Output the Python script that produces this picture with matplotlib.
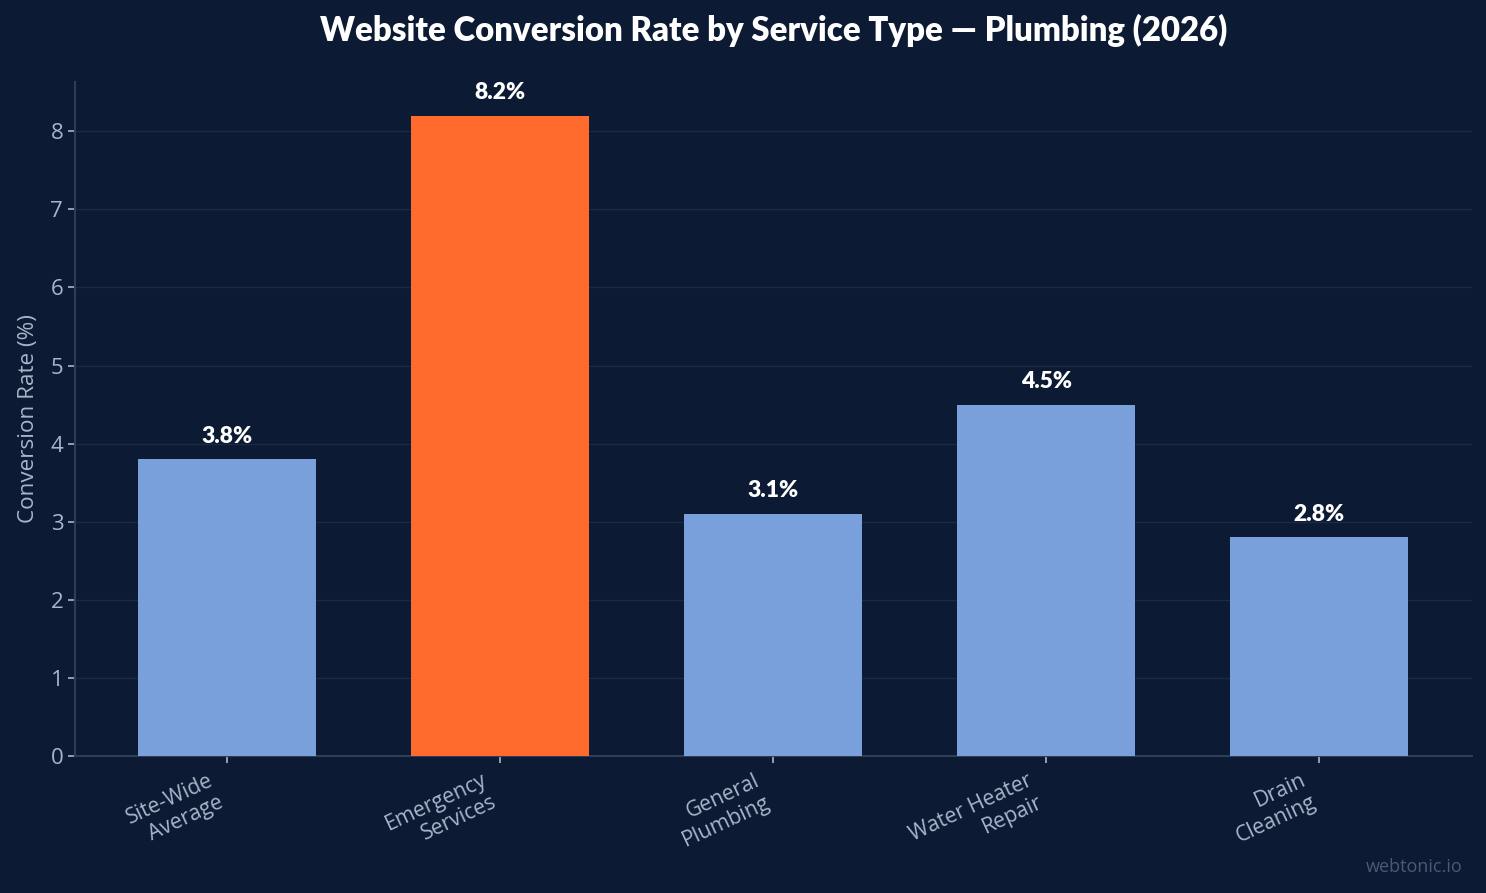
import matplotlib
matplotlib.use("Agg")
import matplotlib.pyplot as plt

categories = ["Site-Wide\nAverage", "Emergency\nServices", "General\nPlumbing", "Water Heater\nRepair", "Drain\nCleaning"]
values = [3.8, 8.2, 3.1, 4.5, 2.8]
value_labels = ["3.8%", "8.2%", "3.1%", "4.5%", "2.8%"]
highlight = "Emergency\nServices"
yticks = [0, 1, 2, 3, 4, 5, 6, 7, 8]

BG = "#0c1b33"
BLUE = "#7aa0dc"
ORANGE = "#ff6b2c"
TICK = "#a9b6c9"
GRID = "#1b2a44"
SPINE = "#2e3d58"

fig = plt.figure(figsize=(14.86, 8.93), dpi=100, facecolor=BG)
ax = fig.add_axes([75/1486, 1-756/893, (1472-75)/1486, (756-82)/893])
ax.set_facecolor(BG)

x = list(range(len(categories)))
colors = [ORANGE if c == highlight else BLUE for c in categories]
ax.bar(x, values, width=0.65, color=colors, zorder=3)

for xi, v, lab in zip(x, values, value_labels):
    ax.annotate(lab, (xi, v), xytext=(0, 9), textcoords="offset points",
                ha="center", va="bottom", color="white", fontsize=16.5,
                fontweight="heavy", family="Lato")

ax.set_xlim(-0.557, 4.56)
ax.set_ylim(0, 8.63)
ax.set_yticks(yticks)
ax.set_xticks(x)
ax.set_xticklabels(categories, rotation=25, ha="right",
                   family="Open Sans", fontsize=15.3, color=TICK)
for t in ax.get_yticklabels():
    t.set_family("Open Sans")
    t.set_fontsize(16)
    t.set_color(TICK)

ax.tick_params(axis="both", colors=TICK, length=5, width=1.2)
ax.tick_params(axis="x", pad=5)
ax.grid(axis="y", color=GRID, linewidth=1, zorder=0)
ax.set_axisbelow(True)
for s in ["top", "right"]:
    ax.spines[s].set_visible(False)
for s in ["left", "bottom"]:
    ax.spines[s].set_color(SPINE)
    ax.spines[s].set_linewidth(1.5)

ax.set_ylabel("Conversion Rate (%)", family="Open Sans", fontsize=16.2, color=TICK, labelpad=8)

fig.text(773.5/1486, 1-30/893, "Website Conversion Rate by Service Type — Plumbing (2026)",
         ha="center", va="center", color="white", fontsize=23.7, fontweight="heavy", family="Lato")
fig.text(1463/1486, 1-867/893, "webtonic.io", ha="right", va="center",
         color="#4a5a75", fontsize=13, family="Open Sans")

fig.savefig("out.png", dpi=100, facecolor=BG)
